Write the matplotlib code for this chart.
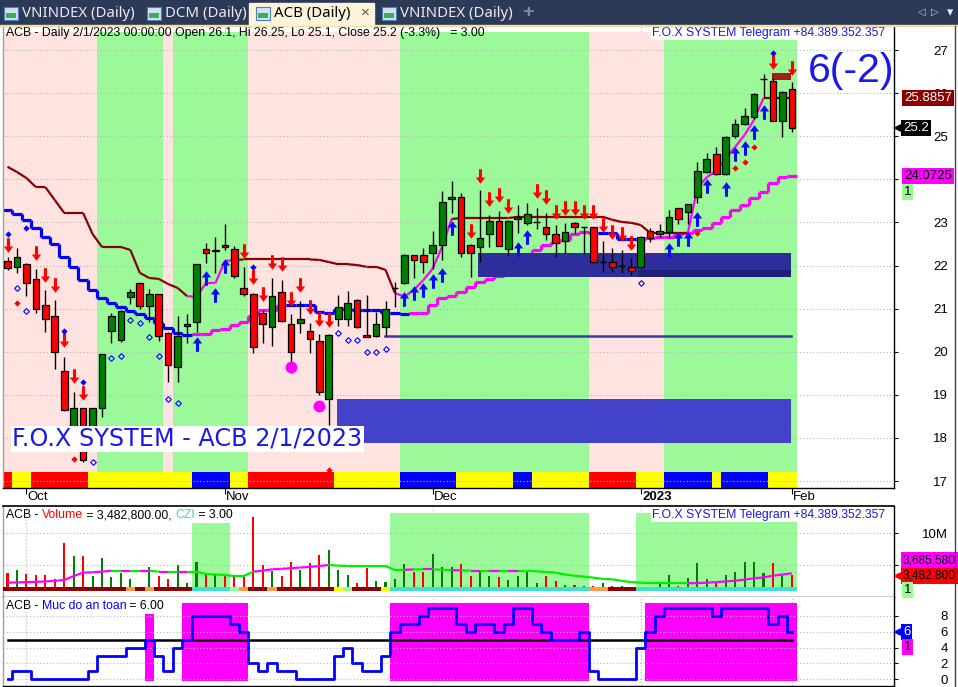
import matplotlib
matplotlib.use("Agg")
import matplotlib.pyplot as plt
import numpy as np
from matplotlib.patches import Rectangle
from matplotlib.path import Path
from matplotlib.lines import Line2D
from matplotlib.collections import LineCollection
from matplotlib.transforms import blended_transform_factory

plt.rcParams['font.family'] = ['Liberation Sans', 'DejaVu Sans']

# ---------------- data ----------------
opens = [22.10, 21.97, 22.03, 21.68, 21.08, 20.83, 19.55, 18.00, 18.69, 18.00,
         18.69, 20.47, 20.27, 21.28, 21.59, 21.07, 21.33, 20.43, 19.65, 20.60,
         20.70, 22.38, 22.33, 22.47, 22.38, 21.47, 21.34, 20.89, 20.58, 21.38,
         20.64, 20.67, 20.48, 20.25, 18.90, 20.77, 20.77, 21.20, 20.39, 20.36,
         20.58, 21.47, 21.59, 22.24, 22.24, 22.28, 22.48, 23.55, 23.58, 22.48,
         22.42, 22.72, 23.03, 22.38, 23.07, 22.98, 23.00, 22.89, 22.72, 22.58,
         22.98, 22.89, 22.89, 22.07, 22.07, 21.99, 21.97, 21.97, 22.81, 22.73,
         22.77, 23.33, 23.23, 23.58, 24.18, 24.58, 24.12, 25.00, 25.28, 25.45,
         26.32, 26.28, 25.36, 26.10]
highs = [22.20, 22.40, 22.05, 21.91, 21.43, 21.20, 19.88, 19.07, 18.69, 18.69,
         19.95, 20.90, 20.96, 21.45, 21.60, 21.45, 21.33, 20.45, 20.82, 20.87,
         22.03, 22.52, 22.65, 22.96, 22.45, 21.97, 21.36, 20.97, 21.70, 21.66,
         20.87, 21.18, 20.66, 20.41, 20.40, 21.32, 21.40, 21.22, 21.32, 20.93,
         21.18, 21.62, 22.26, 22.25, 22.40, 22.80, 23.72, 23.95, 23.69, 22.50,
         23.75, 23.17, 23.26, 23.05, 23.40, 23.46, 23.34, 23.21, 22.94, 22.98,
         23.00, 22.89, 22.90, 22.56, 22.40, 22.36, 22.17, 22.68, 22.86, 22.96,
         23.29, 23.33, 23.43, 24.39, 24.60, 24.74, 25.00, 25.40, 25.65, 26.00,
         26.44, 26.35, 26.05, 26.25]
lows = [21.90, 21.83, 21.30, 20.90, 20.46, 19.60, 18.63, 17.90, 17.44, 17.90,
        18.49, 20.21, 20.23, 21.10, 20.99, 20.70, 20.25, 19.30, 19.30, 20.20,
        20.46, 22.05, 21.82, 22.36, 21.70, 21.30, 19.96, 20.21, 20.13, 20.70,
        19.50, 20.44, 19.96, 19.00, 18.30, 20.60, 20.60, 20.56, 20.33, 20.35,
        20.36, 21.04, 21.57, 21.70, 21.82, 21.93, 22.13, 23.21, 22.20, 21.74,
        22.09, 22.44, 22.45, 22.24, 22.75, 22.95, 22.84, 22.60, 22.20, 22.28,
        22.75, 22.28, 22.05, 21.85, 21.85, 21.83, 21.78, 21.95, 22.55, 22.67,
        22.63, 22.96, 22.96, 23.44, 24.15, 24.10, 24.10, 24.95, 25.27, 25.40,
        25.88, 25.35, 24.99, 25.10]
closes = [21.95, 22.19, 21.59, 20.98, 20.77, 20.00, 18.64, 18.69, 17.48, 18.69,
          19.95, 20.83, 20.94, 21.38, 21.07, 21.33, 20.37, 19.70, 20.37, 20.65,
          22.03, 22.28, 22.37, 22.42, 21.76, 21.33, 20.12, 20.64, 21.29, 20.72,
          19.99, 20.77, 20.29, 19.07, 20.39, 21.03, 21.12, 20.58, 20.33, 20.64,
          20.99, 21.47, 22.24, 22.13, 22.07, 22.47, 23.47, 23.60, 22.28, 22.28,
          22.63, 23.03, 22.46, 23.03, 23.12, 23.19, 23.00, 22.72, 22.53, 22.77,
          22.89, 22.89, 22.07, 22.07, 21.97, 21.99, 21.88, 22.67, 22.64, 22.81,
          23.12, 23.08, 23.43, 24.19, 24.47, 24.12, 24.97, 25.28, 25.47, 25.98,
          26.32, 25.36, 26.02, 25.20]

# trailing stop: value per bar and side ('d' = maroon, 'u' = magenta)
stop_line = [24.29, 24.17, 24.03, 23.82, 23.82, 23.52, 23.22, 23.22, 23.22, 22.73,
             22.43, 22.43, 22.43, 22.36, 21.83, 21.71, 21.69, 21.57, 21.48, 21.29,
             21.27, 21.59, 21.59, 22.10, 22.13, 22.14, 22.14, 22.14, 22.14, 22.14,
             22.14, 22.14, 22.14, 22.13, 22.08, 22.03, 22.03, 22.01, 21.97, 21.97,
             21.90, 21.36, 21.28, 21.43, 21.66, 21.93, 22.44, 23.08, 23.10, 23.10,
             23.10, 23.10, 23.10, 23.10, 23.13, 23.13, 23.13, 23.13, 23.13, 23.13,
             23.13, 23.13, 23.13, 23.13, 23.06, 23.01, 22.99, 22.94, 22.76, 22.76,
             22.76, 22.76, 22.76, 23.80, 24.05, 24.19, 24.49, 24.75, 25.03, 25.38,
             25.8857, 25.8857, 25.8857, 25.8857]
stop_side = "d" * 20 + "u" * 5 + "d" * 17 + "u" * 6 + "d" * 25 + "u" * 8 + "d" * 3

# slow base line, per bar and colour ('b' blue, 'm' magenta)
base_line = [23.29, 23.19, 23.06, 22.86, 22.67, 22.49, 22.20, 21.96, 21.66, 21.43,
             21.24, 21.12, 21.04, 20.94, 20.87, 20.79, 20.67, 20.56, 20.44, 20.39,
             20.40, 20.40, 20.50, 20.53, 20.62, 20.69, 20.83, 20.97, 20.97, 21.08,
             21.08, 21.08, 21.08, 20.93, 20.90, 20.98, 20.98, 20.97, 20.97, 20.97,
             20.89, 20.90, 20.87, 20.90, 20.90, 21.08, 21.25, 21.29, 21.39, 21.51,
             21.62, 21.68, 21.76, 21.90, 22.03, 22.22, 22.36, 22.48, 22.55, 22.59,
             22.73, 22.77, 22.75, 22.75, 22.75, 22.61, 22.61, 22.59, 22.63, 22.67,
             22.67, 22.74, 22.76, 22.82, 22.86, 22.98, 23.13, 23.29, 23.40, 23.56,
             23.71, 23.91, 24.06, 24.0725]
base_color = "b" * 20 + "m" * 10 + "b" * 13 + "m" * 19 + "b" * 5 + "m" * 17

down_arrows = {0: 22.48, 3: 22.28, 4: 21.78, 5: 21.55, 6: 20.26, 7: 19.44, 8: 19.04,
               25: 22.34, 26: 21.73, 27: 21.33, 28: 22.08, 29: 22.03, 30: 21.23, 31: 21.54,
               32: 21.03, 33: 20.77, 34: 20.74, 49: 22.81, 50: 24.08, 51: 23.54, 52: 23.64,
               53: 23.38, 56: 23.72, 57: 23.58, 58: 23.23, 59: 23.33, 60: 23.33,
               61: 23.23, 62: 23.23, 63: 22.94, 64: 22.77, 65: 22.73, 66: 22.53,
               81: 26.71, 83: 26.59}
up_arrows = {20: 20.18, 21: 21.70, 22: 21.31, 23: 22.00, 42: 21.22, 43: 21.36, 44: 21.44,
             45: 21.65, 46: 21.79, 47: 22.87, 54: 22.39, 55: 22.65, 70: 22.36,
             71: 22.61, 72: 22.61, 73: 23.08, 74: 23.84, 76: 23.78, 77: 24.58,
             78: 24.73, 79: 25.09, 80: 25.55}
red_dots = {1: 21.14, 7: 17.50, 34: 17.26, 73: 22.75, 77: 24.26, 78: 24.39, 79: 24.74}
blue_dots = {0: 22.72, 2: 22.88, 6: 20.49, 8: 19.29, 26: 21.97, 81: 26.92}
hollow_dots = {1: 21.48, 2: 20.94, 9: 17.45, 11: 19.86, 12: 19.91, 13: 20.74, 14: 20.66,
               15: 20.35, 16: 19.90, 17: 18.90, 18: 18.81, 35: 20.44, 36: 20.26,
               37: 20.26, 38: 20.00, 39: 20.00, 40: 20.06, 67: 21.60}
pink_dots = {30: 19.65, 33: 18.74}

# zones: left bar, right bar, low, high
zones = [(34.9, 82.9, 17.89, 18.90, '#4343c9'),
         (49.8, 82.9, 21.73, 22.28, '#2d2d9c'),
         (66.7, 82.9, 21.73, 21.90, '#1f1f7a'),
         (80.9, 82.9, 26.30, 26.47, '#a51c1c')]
zone_line = (39.9, 82.9, 20.36)

band_start = [0, 10, 17, 18, 26, 42, 62, 70]
band_end = [9, 16, 17, 25, 41, 61, 69, 83]
strip_start = [0, 1, 3, 9, 20, 24, 26, 35, 42, 48, 54, 56, 62, 67, 70, 75, 76, 81]
strip_color = ['#ff0000', '#ffff00', '#ff0000', '#ffff00', '#0000ff', '#ffff00', '#ff0000',
               '#ffff00', '#0000ff', '#ffff00', '#0000ff', '#ffff00', '#ff0000', '#ffff00',
               '#0000ff', '#ffff00', '#0000ff', '#ffff00']

volume_m = [3.79, 4.21, 3.58, 3.37, 3.37, 2.74, 8.52, 6.42, 6.42, 3.26,
            6.05, 3.16, 3.79, 2.74, 1.40, 4.74, 3.26, 2.74, 5.00, 2.21,
            5.53, 3.58, 3.58, 3.26, 3.16, 3.16, 12.62, 5.00, 4.11, 3.26,
            5.53, 4.21, 5.26, 6.58, 7.37, 4.21, 3.42, 2.21, 4.47, 2.53,
            2.37, 2.74, 5.16, 3.95, 3.95, 6.73, 4.63, 4.63, 5.16, 3.26,
            4.21, 3.26, 3.05, 2.63, 3.26, 4.11, 2.21, 3.26, 2.53, 1.85,
            1.85, 1.69, 1.69, 2.11, 1.69, 1.69, 1.48, 1.48, 1.48, 2.00,
            3.42, 1.69, 2.90, 5.37, 2.74, 2.21, 3.42, 3.95, 5.53, 5.53,
            3.79, 5.37, 3.42, 3.4828]
volume_avg_m = [2.21, 2.25, 2.30, 2.35, 2.40, 2.50, 2.63, 3.26, 3.79, 3.85,
                3.95, 4.11, 4.11, 4.11, 4.11, 4.11, 3.95, 3.95, 3.95, 3.95,
                3.95, 3.58, 3.50, 3.42, 3.26, 3.26, 3.95, 4.10, 4.32, 4.40,
                4.50, 4.60, 4.70, 4.84, 5.00, 4.90, 4.84, 4.84, 4.84, 4.84,
                4.84, 4.21, 4.25, 4.30, 4.32, 4.32, 4.25, 4.20, 4.15, 4.11,
                4.11, 4.11, 4.11, 4.11, 4.11, 4.11, 4.00, 3.90, 3.79, 3.50,
                3.30, 3.16, 3.00, 2.80, 2.74, 2.50, 2.30, 2.21, 2.11, 2.11,
                2.11, 2.11, 2.11, 2.15, 2.21, 2.30, 2.40, 2.53, 2.70, 2.90,
                3.05, 3.30, 3.50, 3.68558]
volume_avg_color = "m" * 11 + "gmgmgmgmg" + "g" * 6 + "m" * 8 + "g" * 7 + \
                   "gmgmggmgmgmgmg" + "g" * 17 + "m" * 12
vol_strip = ("r" * 13 + "o" + "r" + "o" + "r" * 4 + "t" * 4 + "l" + "o" + "rr" + "o" +
             "r" * 6 + "y" + "l" + "rrr" + "y" + "t" * 21 + "oo" + "rrr" + "t" * 17)
vol_strip_colors = {'r': '#8b0000', 'o': '#ff9a4a', 't': '#40e0d0', 'l': '#98fb98', 'y': '#ffff00'}
vol_bands = [(20, 23, 11.6), (41, 61, 13.2), (67, 83, 13.2)]

safety = [0, 1, 1, 0, 0, 0, 0, 0, 0, 1, 3, 3, 3, 4, 4, 5, 3, 1, 4, 5,
          8, 8, 8, 8, 7, 6, 2, 1, 2, 1, 1, 0, 0, 0, 0, 3, 4, 2, 1, 1,
          3, 6, 7, 7, 8, 9, 9, 9, 7, 6, 7, 7, 6, 7, 9, 9, 7, 6, 5, 5,
          5, 6, 1, 0, 0, 0, 0, 4, 6, 8, 9, 9, 9, 9, 9, 8, 9, 9, 9, 9,
          9, 7, 8, 6]
safety_bands = [(15, 15, 8.25), (19, 25, 9.6), (41, 61, 9.6), (68, 83, 9.6)]

month_ticks = [2, 23, 45, 67, 83]
month_labels = ['Oct', 'Nov', 'Dec', '2023', 'Feb']

# ---------------- layout ----------------
W, H = 958, 687
BAR_X0, BAR_DX = 7.5, 9.45          # pixel centre of first bar, bar spacing
AX_L, AX_R = 2.5, 894.0
PX27, PX_PER = 50.0, 43.1           # price 27 sits at y=50 px


def ix(px):
    return (px - BAR_X0) / BAR_DX


def price_at(py):
    return 27 - (py - PX27) / PX_PER


def afx(px):
    return (px - AX_L) / (AX_R - AX_L)


n = len(closes)
idx = np.arange(n)
o, h, l, c = map(np.array, (opens, highs, lows, closes))

fig = plt.figure(figsize=(W / 100, H / 100), dpi=100)
fig.patch.set_facecolor('white')


def add_ax(y0, y1):
    return fig.add_axes([AX_L / W, 1 - y1 / H, (AX_R - AX_L) / W, (y1 - y0) / H])


ax = add_ax(26, 488)
axv = add_ax(506, 596.7)
axs = add_ax(596.7, 686)

for a in (ax, axv, axs):
    a.set_xlim(ix(AX_L), ix(AX_R))
    a.set_facecolor('white')
    a.yaxis.tick_right()
    a.set_xticks(month_ticks)
    a.set_xticklabels([])
    a.tick_params(axis='x', length=0)
    a.tick_params(axis='y', length=3, width=0.8, pad=36, labelsize=9.5, colors='black')
    for s in ('left', 'right', 'top', 'bottom'):
        a.spines[s].set_linewidth(1.0)
    a.spines['left'].set_color('#a0a0a0')
    a.spines['top'].set_visible(False)
    for x in month_ticks:
        a.axvline(x, color='#b8b8b8', lw=0.8, ls=(0, (1, 2)), zorder=0.1)

ax.tick_params(axis='x', length=4, width=0.8, direction='out')

# ---------------- main pane ----------------
ax.set_ylim(price_at(488), price_at(26))
ax.set_yticks(range(17, 28))
ax.set_yticklabels([str(v) if v != 24 else '' for v in range(17, 28)])
ax.grid(axis='y', color='#b8b8b8', lw=0.8, ls=(0, (1, 2)), zorder=0.1)
band_top = price_at(32)
for k, (s, e) in enumerate(zip(band_start, band_end)):
    col = '#ffe3e0' if k % 2 == 0 else '#9cf99a'
    ax.add_patch(Rectangle((s - 0.5, price_at(488)), e - s + 1, band_top - price_at(488),
                           color=col, lw=0, zorder=0.5))
ends = strip_start[1:] + [n]
for s, e, col in zip(strip_start, ends, strip_color):
    ax.add_patch(Rectangle((s - 0.5, price_at(489)), e - s, price_at(472) - price_at(489),
                           color=col, lw=0, zorder=1))

# slow base line (steps)
segs, cols = [], []
for i in range(n):
    cc = '#0000ff' if base_color[i] == 'b' else '#ff00ff'
    segs.append([(i - 0.5, base_line[i]), (i + 0.5, base_line[i])])
    cols.append(cc)
    if i + 1 < n:
        segs.append([(i + 0.5, base_line[i]), (i + 0.5, base_line[i + 1])])
        cols.append(cc)
ax.add_collection(LineCollection(segs, colors=cols, linewidths=2.3, zorder=2, capstyle='butt'))

for x0, x1, lo, hi, col in zones:
    ax.add_patch(Rectangle((x0, lo), x1 - x0, hi - lo, color=col, lw=0, zorder=3))
ax.plot([zone_line[0], zone_line[1]], [zone_line[2]] * 2, color='#3a3aa8', lw=1.8, zorder=3)

# trailing stop
segs, cols = [], []
for i in range(n - 1):
    segs.append([(i, stop_line[i]), (i + 1, stop_line[i + 1])])
    cols.append('#8b0000' if stop_side[i + 1] == 'd' else '#ff00ff')
ax.add_collection(LineCollection(segs, colors=cols, linewidths=1.6, zorder=4))

# candles
up = c > o + 1e-9
dn = c < o - 1e-9
flat = ~(up | dn)
ax.vlines(idx, l, h, color='black', lw=1.0, zorder=5)
ax.bar(idx[up], (c - o)[up], bottom=o[up], width=0.7, color='#008000',
       edgecolor='black', lw=0.9, zorder=6)
ax.bar(idx[dn], (o - c)[dn], bottom=c[dn], width=0.7, color='#ff0000',
       edgecolor='black', lw=0.9, zorder=6)
ax.hlines(c[flat], idx[flat] - 0.35, idx[flat] + 0.35, color='black', lw=1.0, zorder=6)


def arrow_path(up_dir):
    s = 1 if up_dir else -1
    v = [(-0.21, -s), (0.21, -s), (0.21, s * 0.14), (0.64, s * 0.14), (0, s),
         (-0.64, s * 0.14), (-0.21, s * 0.14), (-0.21, -s)]
    return Path(v, closed=True)


ax.plot(list(down_arrows), list(down_arrows.values()), ls='none', marker=arrow_path(False),
        ms=10.5, color='#ff0000', mew=0, zorder=7)
ax.plot(list(up_arrows), list(up_arrows.values()), ls='none', marker=arrow_path(True),
        ms=10.5, color='#0a0aff', mew=0, zorder=7)
ax.plot(list(red_dots), list(red_dots.values()), ls='none', marker='D', ms=3.2,
        color='#ff0000', mew=0, zorder=7)
ax.plot(list(blue_dots), list(blue_dots.values()), ls='none', marker='D', ms=3.2,
        color='#0000ff', mew=0, zorder=7)
ax.plot(list(hollow_dots), list(hollow_dots.values()), ls='none', marker='D', ms=2.9,
        mfc='none', mec='#0000ff', mew=0.8, zorder=7)
ax.plot(list(pink_dots), list(pink_dots.values()), ls='none', marker='o', ms=8.5,
        color='#ff00ff', mew=0, zorder=7)

ax.text(afx(6), 1 - 7 / 462, 'ACB - Daily 2/1/2023 00:00:00 Open 26.1, Hi 26.25, Lo 25.1, '
        'Close 25.2 (-3.3%)   = 3.00', transform=ax.transAxes, fontsize=8.8,
        va='center', ha='left', zorder=10)
ax.text(afx(652), 1 - 7 / 462, 'F.O.X SYSTEM Telegram +84.389.352.357', transform=ax.transAxes,
        fontsize=8.8, va='center', ha='left', color='#1818e0', zorder=10,
        bbox=dict(boxstyle='square,pad=0.1', fc='white', ec='none'))
ax.text(ix(808), price_at(71), '6(-2)', fontsize=29.5, color='#1a1ae8', va='center', ha='left',
        zorder=10)
ax.text(ix(12), price_at(439), 'F.O.X SYSTEM - ACB 2/1/2023', fontsize=17.2, color='#1a1ae8',
        va='center', ha='left', zorder=10, family=['DejaVu Sans'],
        bbox=dict(boxstyle='square,pad=0.06', fc='white', ec='none'))

for x, lab in zip(month_ticks, month_labels):
    ax.text(x + 0.15, -9 / 462, lab, transform=blended_transform_factory(ax.transData, ax.transAxes),
            fontsize=9.5, va='center', ha='left', fontweight='bold' if lab == '2023' else 'normal')


def tag(a, yval, text, bg, fg, px_left, pointer=False, size=9.5):
    tr = blended_transform_factory(a.transAxes, a.transData)
    a.text(afx(px_left), yval, text, transform=tr, ha='left', va='center', fontsize=size,
           color=fg, clip_on=False, zorder=20,
           bbox=dict(boxstyle='square,pad=0.15', fc=bg, ec='none'))
    if pointer:
        a.plot([afx(px_left - 5)], [yval], marker='<', ms=6.5, color=bg, mew=0,
               transform=tr, clip_on=False, zorder=19)


for lab in ax.get_yticklabels() + axv.get_yticklabels() + axs.get_yticklabels():
    lab.set_ha('right')

tag(ax, 25.8857, '25.8857', '#8b0000', 'white', 904)
tag(ax, 25.2, '25.2', 'black', 'white', 903, pointer=True)
tag(ax, 24.0725, '24.0725', '#ff00ff', 'black', 904)
tag(ax, price_at(192), '1', '#98fb98', 'black', 904)

# ---------------- volume pane ----------------
VSCALE = 6.34  # px per million
axv.set_ylim(0, (596.7 - 506) / VSCALE * 1e6)
axv.set_yticks([5e6, 10e6])
axv.set_yticklabels(['', '10M'])
axv.grid(axis='y', color='#b8b8b8', lw=0.8, ls=(0, (1, 2)), zorder=0.1)
for s, e, top in vol_bands:
    axv.add_patch(Rectangle((s - 0.5, 0), e - s + 1, top * 1e6, color='#9cf99a', lw=0, zorder=0.5))
vol = np.array(volume_m) * 1e6
vcol = np.where(c >= o, '#008000', '#ff0000')
axv.bar(idx, vol, width=0.22, color=vcol, lw=0, zorder=2)
axv.add_patch(Rectangle((-1, 0), n + 20, 0.9e6, color='white', lw=0, zorder=2.5))
for i in range(n):
    axv.add_patch(Rectangle((i - 0.5, 0.9e6), 1, 0.63e6, color=vol_strip_colors[vol_strip[i]],
                            lw=0, zorder=3))
segs, cols = [], []
va = np.array(volume_avg_m) * 1e6
for i in range(n - 1):
    segs.append([(i, va[i]), (i + 1, va[i + 1])])
    cols.append('#ff00ff' if volume_avg_color[i] == 'm' else '#00ee00')
axv.add_collection(LineCollection(segs, colors=cols, linewidths=1.6, zorder=4))
axv.text(afx(6), 1 - 9 / 90.7, 'ACB - ', transform=axv.transAxes, fontsize=8.8, va='center')
axv.annotate('Volume', xy=(1, 0), xycoords=axv.texts[-1], fontsize=8.8, va='bottom',
             color='#ff0000')
axv.annotate(' = 3,482,800.00, ', xy=(1, 0), xycoords=axv.texts[-1], fontsize=8.8, va='bottom')
axv.annotate('CZI', xy=(1, 0), xycoords=axv.texts[-1], fontsize=8.8, va='bottom', color='#40d0d0')
axv.annotate(' = 3.00', xy=(1, 0), xycoords=axv.texts[-1], fontsize=8.8, va='bottom')
axv.text(afx(652), 1 - 9 / 90.7, 'F.O.X SYSTEM Telegram +84.389.352.357', transform=axv.transAxes,
         fontsize=8.8, va='center', ha='left', color='#1818e0', zorder=10,
         bbox=dict(boxstyle='square,pad=0.1', fc='white', ec='none'))
tag(axv, 5.75e6, '3,685,580', '#ff00ff', 'black', 903, size=8.6)
tag(axv, 3.3e6, '3,482,800', '#ff0000', 'black', 903, pointer=True, size=8.6)
tag(axv, 1.05e6, '1', '#98fb98', 'black', 904)

# ---------------- safety pane ----------------
axs.set_ylim(-0.84, 10.41)
axs.set_yticks([0, 2, 4, 6, 8])
axs.grid(axis='y', color='#b8b8b8', lw=0.8, ls=(0, (1, 2)), zorder=0.1)
for s, e, top in safety_bands:
    axs.add_patch(Rectangle((s - 0.5, -0.2), e - s + 1, top + 0.2, color='#ff00ff', lw=0,
                            zorder=0.5))
axs.plot([0, n - 1], [5, 5], color='black', lw=1.8, zorder=2)
axs.step(idx, safety, where='mid', color='#0000ff', lw=2.0, zorder=3)
axs.text(afx(6), 1 - 9 / 89.3, 'ACB - ', transform=axs.transAxes, fontsize=8.8, va='center')
axs.annotate('Muc do an toan', xy=(1, 0), xycoords=axs.texts[-1], fontsize=8.8, va='bottom',
             color='#0000ff')
axs.annotate(' = 6.00', xy=(1, 0), xycoords=axs.texts[-1], fontsize=8.8, va='bottom')
tag(axs, 6, '6', '#0000ff', 'white', 903, pointer=True)
tag(axs, 4.05, '1', '#ff00ff', 'black', 904)

# ---------------- window chrome ----------------
def fx(px):
    return px / W


def fy(py):
    return 1 - py / H


fig.patches.append(Rectangle((0, fy(25)), 1, 25 / H, transform=fig.transFigure,
                             color='#2c3a57', zorder=0))
fig.patches.append(Rectangle((0, fy(26)), 1, 1.2 / H, transform=fig.transFigure,
                             color='#f3dc9c', zorder=1))
fig.patches.append(Rectangle((fx(249), fy(25)), fx(125), 22 / H, transform=fig.transFigure,
                             color='#fcf3da', zorder=1))
tabs = [(3, 'VNINDEX (Daily)', False), (146, 'DCM (Daily)', False),
        (255, 'ACB (Daily)', True), (381, 'VNINDEX (Daily)', False)]
for x0, txt, active in tabs:
    fig.patches.append(Rectangle((fx(x0 + 1), fy(20)), fx(14), 13 / H, transform=fig.transFigure,
                                 fc='#cfe2f7', ec='#4f7fc0', lw=0.8, zorder=2))
    fig.patches.append(Rectangle((fx(x0 + 3), fy(18)), fx(10), 5 / H, transform=fig.transFigure,
                                 fc='#3cb04a', lw=0, zorder=3))
    fig.text(fx(x0 + 19), fy(13.5), txt, fontsize=10.8, va='center', ha='left',
             family=['Noto Sans', 'DejaVu Sans'],
             color='black' if active else '#e6ebf4', fontweight='bold' if active else 'normal')
fig.text(fx(365), fy(13), '×', fontsize=11, va='center', ha='center', color='#555555')
fig.text(fx(528), fy(13), '+', fontsize=14, va='center', ha='center', color='#8090a8',
         fontweight='bold')
fig.text(fx(922), fy(12), '◁', fontsize=7, va='center', ha='center', color='#c8d0dc',
         family='DejaVu Sans')
fig.text(fx(935), fy(12), '▷', fontsize=7, va='center', ha='center', color='#c8d0dc',
         family='DejaVu Sans')
fig.text(fx(950), fy(13), '▾', fontsize=9, va='center', ha='center', color='#e6ebf4',
         family='DejaVu Sans')
fig.add_artist(Line2D([fx(955), fx(955)], [fy(26), 0], transform=fig.transFigure,
                      color='#404040', lw=1.0))
fig.add_artist(Line2D([fx(AX_L), fx(AX_R)], [fy(506), fy(506)], transform=fig.transFigure,
                      color='black', lw=1.2))

fig.savefig('out.png', dpi=100, facecolor='white')
